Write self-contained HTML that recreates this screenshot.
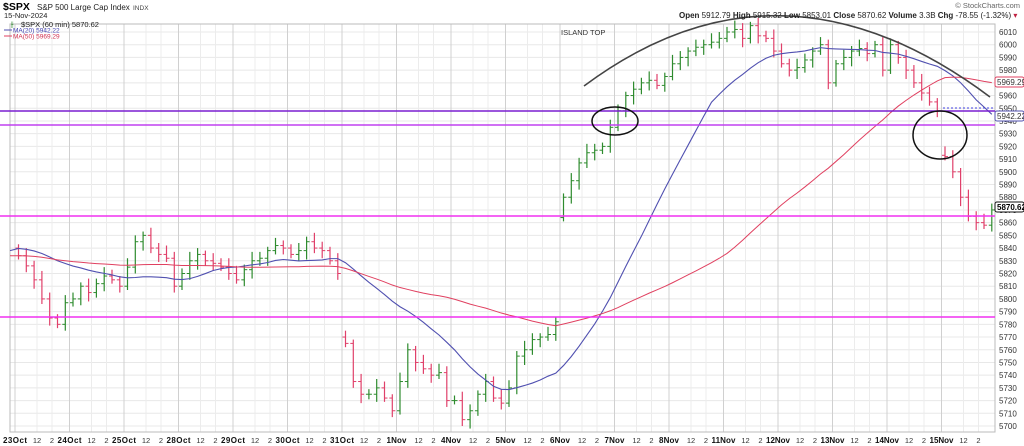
<!DOCTYPE html>
<html><head><meta charset="utf-8"><style>
body{margin:0;background:#fff;width:1024px;height:446px;overflow:hidden;font-family:"Liberation Sans",sans-serif}
svg{display:block}
</style></head><body>
<svg id="c" width="1024" height="446" xmlns="http://www.w3.org/2000/svg" font-family="Liberation Sans, sans-serif"></svg>
<script>
const s=document.getElementById('c');let h='';
const Y=p=>32+(6010-p)*1.271;
const L=10,R=995,T=24,B=432;
h+=`<rect x="0" y="0" width="1024" height="446" fill="#fff"/>`;
for(let p=5700;p<=6010;p+=10){const y=Y(p);h+=`<line x1="${L}" x2="${R}" y1="${y}" y2="${y}" stroke="#e8e8e8" stroke-width="1"/>`;
h+=`<text x="999" y="${y+3}" font-size="8" fill="#333">${p}</text>`;}
const days=['23Oct','24Oct','25Oct','28Oct','29Oct','30Oct','31Oct','1Nov','4Nov','5Nov','6Nov','7Nov','8Nov','11Nov','12Nov','13Nov','14Nov','15Nov'];
days.forEach((d,i)=>{const x=15+54.5*i;
h+=`<line x1="${x}" x2="${x}" y1="${T}" y2="${B}" stroke="#d0d0d0"/>`;
h+=`<line x1="${x+22}" x2="${x+22}" y1="${T}" y2="${B}" stroke="#ececec"/>`;
h+=`<line x1="${x+37}" x2="${x+37}" y1="${T}" y2="${B}" stroke="#ececec"/>`;
h+=`<text x="${x}" y="443" font-size="8" font-weight="bold" text-anchor="middle" fill="#111" textLength="${d.length>4?24:20}">${d}</text>`;
h+=`<text x="${x+22}" y="443" font-size="7.5" text-anchor="middle" fill="#333">12</text>`;
h+=`<text x="${x+37}" y="443" font-size="7.5" text-anchor="middle" fill="#333">2</text>`;});
h+=`<rect x="${L}" y="${T}" width="${R-L}" height="${B-T}" fill="none" stroke="#bbb"/>`;
const C=[
[5834,5826,5815,5800,5785,5780,5797],[5800,5810,5805,5812,5818,5815,5810],[5825,5845,5850,5840,5835,5832,5810],
[5820,5830,5835,5830,5828,5825,5820],[5815,5823,5830,5832,5838,5842,5840],[5835,5838,5845,5840,5838,5830,5820],
[5765,5735,5725,5725,5730,5722,5712],[5735,5760,5750,5745,5740,5742,5720],[5720,5705,5712,5725,5735,5722,5718],
[5730,5755,5760,5768,5770,5772,5782],[5880,5893,5907,5915,5917,5920,5935],[5948,5960,5965,5970,5972,5968,5975],
[5985,5990,5995,5998,6000,6002,6005],[6010,6012,6005,6015,6007,6005,5995],[5985,5980,5982,5988,5995,6000,5970],
[5985,5990,5995,5997,5993,6000,5980],[6000,5990,5980,5970,5962,5955,5948],[5912,5900,5880,5865,5860,5858,5870]];
const opens0=[5840,null,null,null,null,null,5770,null,null,null,5864,null,null,null,null,null,null,5913];
let closes=[],xs=[],prev=5845;
C.forEach((d,i)=>{d.forEach((c,k)=>{const x=15+54.5*i+3.5+7.8*k;let o=(k==0&&opens0[i])?opens0[i]:prev;
const hi=Math.max(o,c)+3+((i*7+k*3)%5),lo=Math.min(o,c)-3-((i*5+k*7)%5);
const col=c>=o?'#2e8b2e':'#e0406a';
h+=`<line x1="${x}" x2="${x}" y1="${Y(hi)}" y2="${Y(lo)}" stroke="${col}" stroke-width="1.2"/>`;
h+=`<line x1="${x-3}" x2="${x}" y1="${Y(o)}" y2="${Y(o)}" stroke="${col}"/>`;
h+=`<line x1="${x}" x2="${x+3}" y1="${Y(c)}" y2="${Y(c)}" stroke="${col}"/>`;
closes.push(c);xs.push(x);prev=c;});});
function ma(n,seed){const a=[];const full=Array(n).fill(seed).concat(closes);for(let i=0;i<closes.length;i++){let sm=0;for(let j=0;j<n;j++)sm+=full[i+n-j];a.push(sm/n);}return a;}
const m20=ma(20,5840),m50=ma(50,5834);
h+=`<polyline fill="none" stroke="#5050b0" stroke-width="1.1" points="${L},${Y(5838)} ${xs.map((x,i)=>x+','+Y(m20[i])).join(' ')}"/>`;
h+=`<polyline fill="none" stroke="#e04060" stroke-width="1" points="${L},${Y(5834)} ${xs.map((x,i)=>x+','+Y(m50[i])).join(' ')}"/>`;
h+=`<line x1="0" x2="${R}" y1="111" y2="111" stroke="#7a1fd0" stroke-width="1.5"/>`;
h+=`<line x1="0" x2="${R}" y1="125" y2="125" stroke="#c040f0" stroke-width="1.5"/>`;
h+=`<line x1="0" x2="${R}" y1="216" y2="216" stroke="#f030f0" stroke-width="1.5"/>`;
h+=`<line x1="0" x2="${R}" y1="317" y2="317" stroke="#f030f0" stroke-width="1.5"/>`;
h+=`<line x1="943" x2="${R}" y1="108" y2="108" stroke="#4040e0" stroke-dasharray="2,2"/>`;
h+=`<path d="M584,86 Q780,-60 990,97" fill="none" stroke="#444" stroke-width="1.6"/>`;
h+=`<ellipse cx="615" cy="121" rx="23" ry="14" fill="none" stroke="#111" stroke-width="1.5"/>`;
h+=`<ellipse cx="940" cy="135" rx="27" ry="24" fill="none" stroke="#111" stroke-width="1.5"/>`;
h+=`<text x="561" y="35" font-size="7.5" fill="#333">ISLAND TOP</text>`;
const tag=(y,t,c)=>`<rect x="995" y="${y-5}" width="29" height="10" fill="#fff" stroke="${c}" rx="2"/><text x="997" y="${y+3}" font-size="8" fill="${c=='#111'?'#000':'#333'}" font-weight="${c=='#111'?'bold':'normal'}">${t}</text>`;
h+=tag(82,'5969.29','#e04060')+tag(116,'5942.22','#5050b0')+tag(207,'5870.62','#111');
h+=`<text x="3" y="10" font-size="10.5" font-weight="bold">$SPX</text><text x="37" y="10" font-size="8" fill="#222">S&amp;P 500 Large Cap Index</text><text x="133" y="10" font-size="6.5" fill="#444">INDX</text>`;
h+=`<text x="4" y="18" font-size="7.5" fill="#222">15-Nov-2024</text>`;
h+=`<text x="21" y="27" font-size="7.5" fill="#222">$SPX (60 min) 5870.62</text><text x="11" y="27" font-size="8" fill="#2e8b2e">⫲</text>`;
h+=`<line x1="4" x2="12" y1="30" y2="30" stroke="#5050b0"/><text x="13" y="32.5" font-size="6.5" fill="#4040b0">MA(20) 5942.22</text>`;
h+=`<line x1="4" x2="12" y1="36" y2="36" stroke="#e04060"/><text x="13" y="38.5" font-size="6.5" fill="#d03050">MA(50) 5969.29</text>`;
h+=`<text x="1020" y="8" font-size="7.5" fill="#666" text-anchor="end">© StockCharts.com</text>`;
h+=`<text x="679" y="18" font-size="8" fill="#222"><tspan font-weight="bold">Open</tspan> 5912.79 <tspan font-weight="bold">High</tspan> 5915.32 <tspan font-weight="bold">Low</tspan> 5853.01 <tspan font-weight="bold">Close</tspan> 5870.62 <tspan font-weight="bold">Volume</tspan> 3.3B <tspan font-weight="bold">Chg</tspan> -78.55 (-1.32%) <tspan fill="#c02040">▾</tspan></text>`;
s.innerHTML=h;
</script>
</body></html>
